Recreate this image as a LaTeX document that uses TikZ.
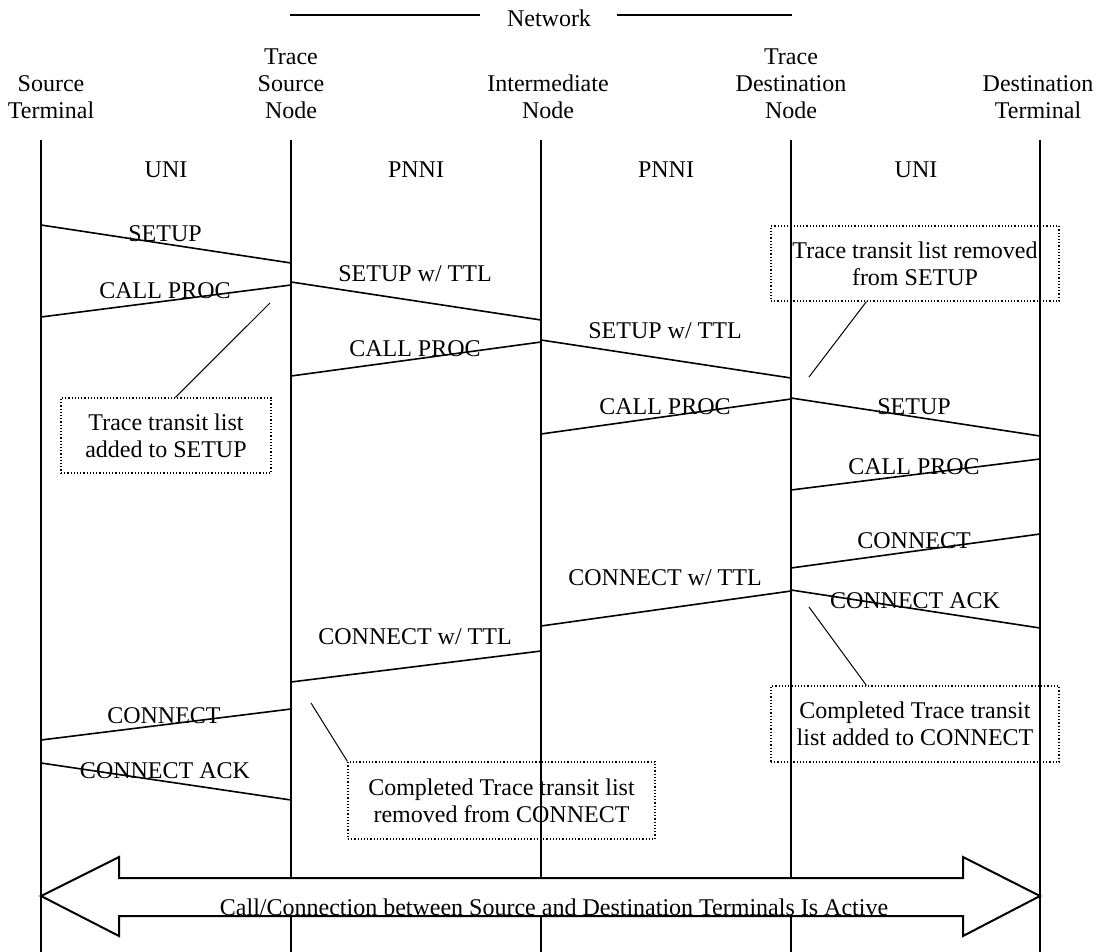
\documentclass[tikz,border=0pt]{standalone}
\usepackage{fontspec}
\setmainfont{Liberation Serif}
\usepackage{tikz}
\usetikzlibrary{calc,positioning}

\begin{document}
\begin{tikzpicture}[
		x=0.5pt,
		y=-0.5pt,
		every node/.style={font=\fontsize{12}{13.5}\selectfont, inner sep=0pt},
		header/.style={align=center},
		lifeline/.style={line width=1pt},
		msg/.style={line width=0.8pt},
		msgtext/.style={anchor=base},
		note/.style={draw, densely dotted, line width=0.6pt, align=center},
		pointer/.style={line width=0.5pt},
		bigarrow/.style={draw, fill=white, line width=1pt}
	]

	\useasboundingbox (0,0) rectangle (1102,952);

	% header
	\node (net) at (549,18) {Network};
	\coordinate (netl) at (290,15);
	\coordinate (netla) at (480,15);
	\coordinate (netra) at (617,15);
	\coordinate (netr) at (792,15);
	\draw[line width=1pt] (netl) -- (netla);
	\draw[line width=1pt] (netra) -- (netr);

	\node[header] (st)  at (51,97)   {Source\\Terminal};
	\node[header] (tsn) at (291,84)  {Trace\\Source\\Node};
	\node[header] (in)  at (548,97)  {Intermediate\\Node};
	\node[header] (tdn) at (791,84)  {Trace\\Destination\\Node};
	\node[header] (dt)  at (1038,97) {Destination\\Terminal};

	% lifelines
	\coordinate (atop) at (41,140);   \coordinate (abot) at (41,952);
	\coordinate (btop) at (291,140);  \coordinate (bbot) at (291,952);
	\coordinate (ctop) at (541,140);  \coordinate (cbot) at (541,952);
	\coordinate (dtop) at (791,140);  \coordinate (dbot) at (791,952);
	\coordinate (etop) at (1040,140); \coordinate (ebot) at (1040,952);
	\draw[lifeline] (atop) -- (abot);
	\draw[lifeline] (btop) -- (bbot);
	\draw[lifeline] (ctop) -- (cbot);
	\draw[lifeline] (dtop) -- (dbot);
	\draw[lifeline] (etop) -- (ebot);

	\node (uni1)  at (166,170) {UNI};
	\node (pnni1) at (416,170) {PNNI};
	\node (pnni2) at (666,170) {PNNI};
	\node (uni2)  at (916,170) {UNI};

	% messages
	\foreach \xa/\ya/\xb/\yb in {
			41/225/291/263,
			291/285/41/317,
			291/282/541/320,
			541/342/291/376,
			541/340/791/378,
			791/399/541/434,
			791/398/1040/436,
			1040/459/791/490,
			1040/534/791/568,
			791/591/541/626,
			791/590/1040/628,
			541/651/291/682,
			291/709/41/740,
			41/763/291/800}{
		\coordinate (ms) at (\xa,\ya);
		\coordinate (me) at (\xb,\yb);
		\draw[msg] (ms) -- (me);
	}

	\node[msgtext] (l1)  at (165,242) {SETUP};
	\node[msgtext] (l2)  at (165,298) {CALL PROC};
	\node[msgtext] (l3)  at (415,281) {SETUP w/ TTL};
	\node[msgtext] (l4)  at (415,356) {CALL PROC};
	\node[msgtext] (l5)  at (665,338) {SETUP w/ TTL};
	\node[msgtext] (l6)  at (665,414) {CALL PROC};
	\node[msgtext] (l7)  at (914,414) {SETUP};
	\node[msgtext] (l8)  at (914,474) {CALL PROC};
	\node[msgtext] (l9)  at (914,548) {CONNECT};
	\node[msgtext] (l10) at (665,585) {CONNECT w/ TTL};
	\node[msgtext] (l11) at (915,608) {CONNECT ACK};
	\node[msgtext] (l12) at (415,644) {CONNECT w/ TTL};
	\node[msgtext] (l13) at (164,723) {CONNECT};
	\node[msgtext] (l14) at (165,778) {CONNECT ACK};

	% notes
	\node[note, minimum width=105pt, minimum height=37.5pt] (addset) at (166,435.5)
		{Trace transit list\\added to SETUP};
	\node[note, minimum width=144pt, minimum height=37.5pt] (remset) at (915,263.5)
		{Trace transit list removed\\from SETUP};
	\node[note, minimum width=153.5pt, minimum height=38.5pt] (remcon) at (501.5,800.5)
		{Completed Trace transit list\\removed from CONNECT};
	\node[note, minimum width=144pt, minimum height=38pt] (addcon) at (915,724)
		{Completed Trace transit\\list added to CONNECT};

	\coordinate (p1) at (270,303);
	\coordinate (p2) at (809,377);
	\coordinate (p3) at (311,703);
	\coordinate (p4) at (809,607);
	\draw[pointer] ($(addset.north west)+(115,0)$) -- (p1);
	\draw[pointer] ($(remset.south west)+(96,0)$) -- (p2);
	\draw[pointer] (remcon.north west) -- (p3);
	\draw[pointer] ($(addcon.north west)+(96,0)$) -- (p4);

	% active call
	\coordinate (tipl) at (41,896);
	\coordinate (tipr) at (1040,896);
	\draw[bigarrow] (tipl) -- (119,857) -- (119,878) -- (963,878) -- (963,857)
		-- (tipr) -- (963,936) -- (963,916) -- (119,916) -- (119,936) -- cycle;
	\node[anchor=base] (active) at (554,915)
		{Call/Connection between Source and Destination Terminals Is Active};

\end{tikzpicture}
\end{document}
